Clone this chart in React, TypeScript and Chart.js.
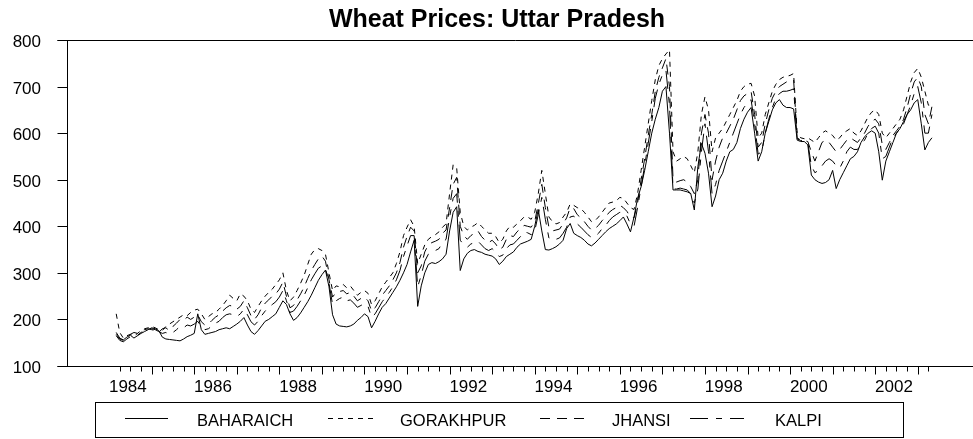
import { useEffect, useRef } from 'react';
import { Chart, registerables } from 'chart.js';

Chart.register(...registerables);

const TITLE = 'Wheat Prices: Uttar Pradesh';
const START_YEAR = 1984;
const START_MONTH = 3;

const SERIES_NAMES = ['BAHARAICH', 'GORAKHPUR', 'JHANSI', 'KALPI'];

const BAHARAICH = [
  172, 160, 156, 162, 166, 160, 165, 170, 174, 178,
  182, 180, 176, 162, 158, 157, 156, 155, 154, 158, 163, 166,
  170, 212, 178, 168, 170, 172, 174, 178, 180, 182, 180, 185,
  190, 196, 204, 188, 174, 168, 176, 186, 196, 200, 206, 212,
  226, 240, 232, 212, 198, 204, 214, 226, 238, 252, 268, 284,
  296, 306, 270, 210, 190, 186, 185, 184, 186, 190, 198, 204,
  212, 206, 182, 196, 212, 226, 234, 246, 258, 270, 284, 300,
  318, 345, 370, 228, 272, 300, 318, 322, 320, 324, 330, 340,
  390, 430, 442, 305, 330, 342, 348, 350, 346, 344, 340, 338,
  336, 330, 318, 325, 335, 340, 345, 355, 362, 365, 368, 372,
  400, 436, 390, 350, 349, 352, 356, 362, 370, 395, 406, 385,
  380, 376, 370, 362, 358, 364, 372, 380, 388, 395, 400, 405,
  412, 420, 405, 388, 420, 460, 485, 520, 560, 600, 630, 655,
  690, 700, 600, 478, 478, 478, 476, 474, 470, 435, 528, 578,
  557, 514, 442, 465, 500, 514, 540, 560, 565, 580, 610, 630,
  645, 655, 600, 540, 560, 600, 625, 650, 665, 672, 660, 655,
  655, 652, 585, 582, 582, 575, 510, 500, 495, 492, 494, 500,
  520, 481, 500, 515, 530, 545, 550, 560, 580, 592, 600, 605,
  600, 560, 499, 540, 560, 580, 600, 610, 625, 640, 650, 665,
  672, 620, 564, 580, 590,
];

const GORAKHPUR = [
  212, 172, 160, 165, 168, 164, 170, 176, 180, 182,
  185, 182, 178, 176, 185, 190, 195, 200, 205, 210, 208, 215,
  220, 222, 212, 200, 206, 212, 215, 222, 230, 240, 252, 245,
  240, 255, 250, 240, 222, 215, 228, 240, 250, 258, 265, 275,
  285, 300, 262, 240, 248, 262, 278, 295, 318, 340, 350, 352,
  348, 340, 300, 262, 272, 270, 275, 268, 272, 262, 252, 258,
  262, 256, 232, 240, 255, 270, 280, 290, 300, 320, 345, 380,
  398, 414, 400, 320, 340, 360, 372, 378, 382, 388, 398, 405,
  470, 532, 525, 430, 400, 392, 398, 402, 408, 400, 392, 385,
  385, 378, 365, 372, 390, 400, 398, 405, 412, 420, 420, 415,
  430, 470, 520, 470, 420, 410, 405, 408, 420, 430, 448, 445,
  440, 438, 430, 420, 410, 412, 420, 430, 440, 450, 452, 455,
  462, 460, 450, 440, 436, 470, 520, 570, 620, 670, 715, 745,
  760, 770, 779, 560, 540, 545, 550, 545, 530, 515, 560, 640,
  678, 650, 560, 590, 600, 610, 625, 640, 655, 670, 690, 700,
  705, 707, 680, 590, 600, 640, 665, 690, 705, 715, 720, 722,
  724, 728, 600, 590, 588, 590, 585, 580, 590, 600, 605, 600,
  595, 585, 590, 600, 605, 610, 600, 595, 605, 620, 635, 645,
  650, 640, 600, 590, 600, 610, 620, 630, 650, 680, 710, 730,
  739, 720, 690, 660, 660,
];

const JHANSI = [
  168, 158, 155, 160, 168, 172, 170, 175, 178, 180,
  178, 176, 172, 180, 182, 176, 185, 192, 200, 198, 205, 200,
  205, 210, 195, 188, 190, 198, 205, 210, 218, 225, 230, 228,
  222, 228, 240, 225, 208, 200, 210, 225, 235, 242, 250, 255,
  265, 280, 250, 225, 230, 242, 255, 270, 288, 305, 318, 330,
  336, 325, 285, 248, 258, 260, 262, 255, 258, 250, 240, 245,
  248, 240, 218, 225, 238, 252, 262, 272, 285, 300, 322, 355,
  378, 398, 390, 300, 315, 345, 360, 365, 368, 372, 385, 392,
  440, 490, 505, 400, 380, 372, 380, 385, 390, 378, 370, 365,
  370, 362, 350, 355, 372, 380, 378, 388, 395, 402, 400, 398,
  410, 448, 490, 440, 398, 390, 392, 394, 405, 418, 440, 438,
  425, 418, 410, 400, 392, 395, 402, 412, 420, 430, 436, 440,
  445, 440, 432, 420, 418, 450, 500, 545, 595, 640, 690, 720,
  740, 760, 700, 500, 495, 498, 500, 495, 485, 470, 500, 600,
  640, 600, 500, 540, 570, 590, 600, 615, 630, 650, 670, 680,
  685, 690, 640, 570, 580, 620, 650, 675, 690, 700, 705, 710,
  712, 714, 590, 585, 584, 582, 560, 540, 560, 580, 585, 580,
  570, 560, 565, 575, 585, 590, 585, 580, 590, 600, 615, 625,
  630, 620, 575, 565, 580, 595, 605, 615, 630, 655, 685, 710,
  720, 700, 640, 620, 657,
];

const KALPI = [
  165, 155, 152, 158, 163, 162, 166, 172, 176, 179,
  180, 178, 174, 170, 172, 168, 172, 178, 185, 182, 188, 186,
  190, 196, 184, 178, 180, 186, 192, 196, 204, 210, 212, 210,
  206, 212, 222, 210, 195, 188, 196, 208, 218, 226, 232, 238,
  248, 262, 240, 215, 218, 228, 240, 252, 268, 285, 298, 310,
  315, 310, 278, 232, 240, 245, 248, 240, 242, 235, 226, 230,
  234, 228, 205, 212, 225, 238, 248, 258, 270, 285, 305, 335,
  358, 380, 380, 270, 295, 325, 340, 345, 348, 352, 365, 372,
  420, 460, 470, 370, 360, 355, 362, 365, 368, 360, 352, 348,
  352, 345, 335, 338, 352, 360, 362, 370, 378, 388, 386, 382,
  390, 425, 462, 415, 375, 370, 372, 375, 385, 398, 420, 422,
  405, 398, 390, 382, 376, 378, 385, 395, 402, 412, 420, 425,
  430, 430, 422, 405, 400, 440, 485, 530, 578, 625, 675, 705,
  725, 735, 660, 480, 480, 482, 480, 478, 470, 450, 480, 560,
  620, 560, 470, 490, 520, 540, 560, 580, 600, 620, 640, 655,
  665, 672, 620, 555, 560, 600, 630, 655, 675, 685, 690, 690,
  692, 695, 588, 584, 584, 580, 530, 515, 520, 530, 540, 545,
  540, 530, 525, 540, 560, 570, 565, 565, 575, 585, 600, 610,
  615, 600, 545, 550, 570, 590, 600, 610, 620, 640, 660, 685,
  700, 665, 600, 600, 640,
];

const Y_TICKS = [100, 200, 300, 400, 500, 600, 700, 800];
const X_LABEL_YEARS = [1984, 1986, 1988, 1990, 1992, 1994, 1996, 1998, 2000, 2002];
const FIRST_TICK = 1984.25;
const LAST_TICK = 2003.25;

const DASHES: number[][] = [[], [5, 5], [10, 7], [18, 8, 6, 8]];
const FONT = '"Liberation Sans", Arial, sans-serif';

function toPoints(values: number[]) {
  return values.map((v, i) => ({ x: START_YEAR + (START_MONTH - 1 + i) / 12, y: v }));
}

export default function App() {
  const ref = useRef<HTMLCanvasElement | null>(null);

  useEffect(() => {
    const canvas = ref.current;
    if (!canvas) return;

    const decor = {
      id: 'decor',
      afterDraw(chart: any) {
        const { ctx } = chart;
        const xs = chart.scales.x;
        const ys = chart.scales.y;
        const W = chart.width;
        ctx.save();
        ctx.strokeStyle = '#000';
        ctx.fillStyle = '#000';
        ctx.lineWidth = 1;
        ctx.setLineDash([]);

        const yTop = Math.round(ys.getPixelForValue(800)) + 0.5;
        const yBot = Math.round(ys.getPixelForValue(100)) + 0.5;
        const xLeft = Math.round(xs.left) - 0.5;

        // frame lines
        ctx.beginPath();
        ctx.moveTo(xLeft - 10, yTop);
        ctx.lineTo(W, yTop);
        ctx.moveTo(xLeft - 10, yBot);
        ctx.lineTo(W, yBot);
        ctx.moveTo(xLeft, yTop);
        ctx.lineTo(xLeft, yBot);
        ctx.stroke();

        // y ticks + labels
        ctx.font = `17px ${FONT}`;
        ctx.textAlign = 'right';
        ctx.textBaseline = 'alphabetic';
        Y_TICKS.forEach((v) => {
          const py = Math.round(ys.getPixelForValue(v)) + 0.5;
          ctx.beginPath();
          ctx.moveTo(xLeft - 10, py);
          ctx.lineTo(xLeft, py);
          ctx.stroke();
          ctx.fillText(String(v), 41, py + 6);
        });

        // x ticks (quarterly; longer at year starts)
        const nQ = Math.round((LAST_TICK - FIRST_TICK) * 4);
        ctx.beginPath();
        for (let i = 0; i <= nQ; i++) {
          const t = FIRST_TICK + i / 4;
          const px = Math.round(xs.getPixelForValue(t)) + 0.5;
          const major = Math.abs(t - Math.round(t)) < 1e-6;
          ctx.moveTo(px, yBot);
          ctx.lineTo(px, yBot + (major ? 8 : 5));
        }
        ctx.stroke();

        ctx.textAlign = 'center';
        X_LABEL_YEARS.forEach((yr) => {
          const px = xs.getPixelForValue(yr + 0.44);
          ctx.fillText(String(yr), px, 392);
        });

        // title
        ctx.font = `bold 25px ${FONT}`;
        ctx.textAlign = 'center';
        ctx.fillText(TITLE, 497, 27);

        // legend
        ctx.strokeRect(95.5, 402.5, 808, 35);
        const samples = [
          [125, 168, 197],
          [328, 375, 400],
          [540, 584, 612],
          [690, 744, 775],
        ];
        ctx.font = `16.5px ${FONT}`;
        ctx.textAlign = 'left';
        SERIES_NAMES.forEach((name, i) => {
          const [a, b, tx] = samples[i];
          ctx.setLineDash(DASHES[i]);
          ctx.beginPath();
          ctx.moveTo(a, 418.5);
          ctx.lineTo(b, 418.5);
          ctx.stroke();
          ctx.setLineDash([]);
          ctx.fillText(name, tx, 426);
        });
        ctx.restore();
      },
    };

    const seriesValues = [BAHARAICH, GORAKHPUR, JHANSI, KALPI];
    const chart = new Chart(canvas, {
      type: 'line',
      data: {
        datasets: seriesValues.map((vals, i) => ({
          label: SERIES_NAMES[i],
          data: toPoints(vals),
          borderColor: '#000',
          borderWidth: 1,
          borderDash: DASHES[i],
          pointRadius: 0,
          tension: 0,
          fill: false,
        })),
      },
      options: {
        responsive: false,
        animation: false,
        devicePixelRatio: 1,
        layout: { padding: { left: 68, top: 40, right: 0, bottom: 73 } },
        scales: {
          x: { type: 'linear', min: 1983.034, max: 2004.298, display: false },
          y: { type: 'linear', min: 100, max: 800, display: false },
        },
        plugins: {
          legend: { display: false },
          title: { display: false },
          tooltip: { enabled: false },
        },
        events: [],
      },
      plugins: [decor],
    });
    return () => chart.destroy();
  }, []);

  return (
    <div style={{ position: 'absolute', left: 0, top: 0, width: 973, height: 439, background: '#fff' }}>
      <canvas ref={ref} width={973} height={439} style={{ display: 'block' }} />
    </div>
  );
}
